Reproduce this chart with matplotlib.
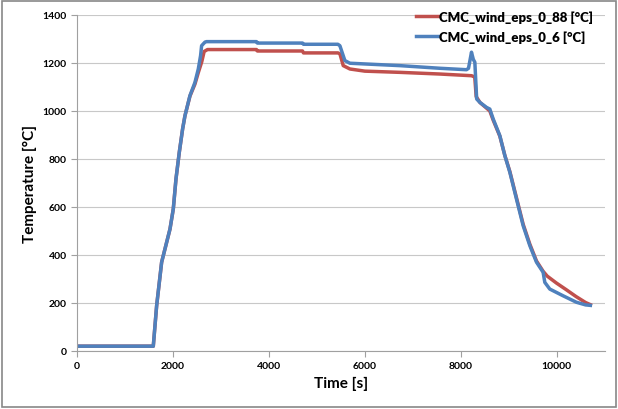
import matplotlib.pyplot as plt
from matplotlib.patches import Rectangle

plt.rcParams['font.family'] = ['Lato', 'DejaVu Sans']

# time [s] and temperature [C]
t_red = [0, 1590, 1660, 1764, 1938, 2007, 2063, 2132, 2201, 2250, 2354, 2458,
         2528, 2600, 2650, 2720, 3740, 3760, 4700, 4720, 5440, 5480, 5549, 5688,
         6000, 6729, 7563, 8222, 8290, 8320, 8400, 8535, 8604, 8674, 8813, 8917,
         9021, 9160, 9299, 9438, 9577, 9715, 9800, 9993, 10200, 10400, 10600, 10700]
temp_red = [20, 20, 189, 370, 508, 592, 717, 828, 925, 980, 1062, 1112,
            1160, 1205, 1248, 1256, 1256, 1250, 1250, 1242, 1242, 1238, 1189, 1175,
            1166, 1161, 1154, 1147, 1142, 1060, 1035, 1012, 1000, 962, 895, 815,
            748, 638, 528, 445, 375, 332, 312, 283, 255, 227, 202, 193]

t_blue = [0, 1590, 1660, 1764, 1938, 2007, 2063, 2132, 2201, 2250, 2354, 2458,
          2528, 2576, 2597, 2667, 2700, 3740, 3760, 4700, 4720, 5437, 5479, 5583,
          5688, 6729, 7563, 8118, 8160, 8222, 8260, 8292, 8330, 8396, 8535, 8604,
          8674, 8813, 8917, 9021, 9160, 9299, 9438, 9577, 9715, 9750, 9854, 10131,
          10410, 10600, 10700]
temp_blue = [20, 20, 189, 370, 508, 592, 717, 828, 925, 980, 1064, 1119,
             1175, 1231, 1272, 1287, 1289, 1289, 1283, 1283, 1278, 1278, 1272, 1210,
             1199, 1189, 1178, 1172, 1178, 1245, 1215, 1203, 1050, 1036, 1015, 1008,
             967, 897, 814, 745, 633, 522, 439, 370, 328, 286, 258, 230,
             203, 192, 190]

fig = plt.figure(figsize=(6.18, 4.10), dpi=100)
ax = fig.add_axes([0.1246, 0.1415, 0.854, 0.8195])

ax.plot(t_red, temp_red, color='#C0504D', lw=2.5, label='CMC_wind_eps_0_88 [°C]')
ax.plot(t_blue, temp_blue, color='#4F81BD', lw=2.5, label='CMC_wind_eps_0_6 [°C]')

ax.set_xlim(0, 11000)
ax.set_ylim(0, 1400)
ax.set_xticks(range(0, 11000, 2000))
ax.set_yticks(range(0, 1401, 200))
ax.grid(axis='y', color='#C8C8C8', lw=0.8)
ax.set_axisbelow(True)
for s in ['top', 'right']:
    ax.spines[s].set_visible(False)
for s in ['left', 'bottom']:
    ax.spines[s].set_color('#A0A0A0')
ax.tick_params(colors='#A0A0A0', length=4, labelcolor='black', labelsize=7.5)
for lab in ax.get_xticklabels() + ax.get_yticklabels():
    lab.set_fontweight('bold')

ax.set_xlabel('Time [s]', fontsize=11, fontweight='bold')
ax.set_ylabel('Temperature [°C]', fontsize=11, fontweight='bold')

leg = ax.legend(loc='upper right', bbox_to_anchor=(1.0, 1.05), frameon=False,
                handlelength=1.6, handletextpad=0.1, labelspacing=0.6,
                prop={'family': ['Lato', 'DejaVu Sans'], 'size': 9.5, 'weight': 'heavy'})

fig.patches.append(Rectangle((0.003, 0.004), 0.994, 0.992, transform=fig.transFigure,
                             fill=False, edgecolor='#888888', lw=1.2))

fig.savefig('out.png', dpi=100)
